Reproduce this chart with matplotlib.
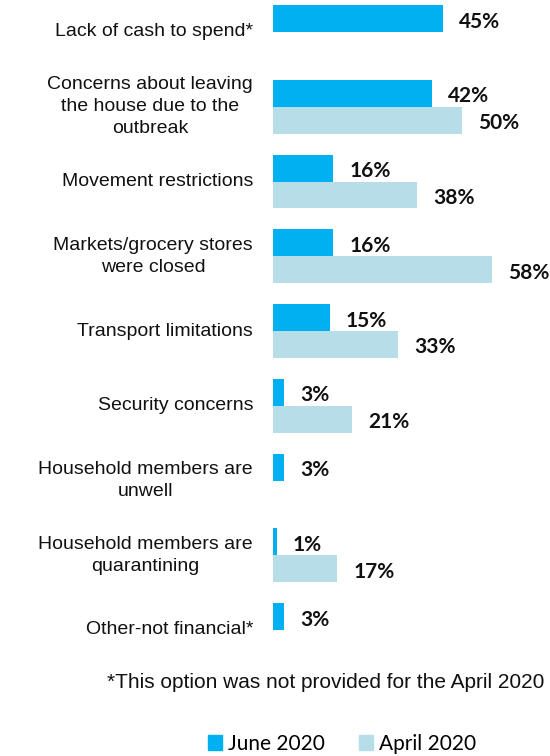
import numpy as np
import matplotlib.pyplot as plt
from matplotlib.patches import Patch

categories = [
    "Lack of cash to spend*",
    "Concerns about leaving\nthe house due to the\noutbreak",
    "Movement restrictions",
    "Markets/grocery stores\nwere closed",
    "Transport limitations",
    "Security concerns",
    "Household members are\nunwell",
    "Household members are\nquarantining",
    "Other-not financial*",
]
june = [45, 42, 16, 16, 15, 3, 3, 1, 3]
april = [None, 50, 38, 58, 33, 21, None, 17, None]

june_color = "#00B0F0"
april_color = "#B7DEE8"

W, H = 550, 756
fig = plt.figure(figsize=(W / 100, H / 100), dpi=100)

# axes placed in pixel terms: bars start at x=273, group spacing ~74.75px
x0 = 273
px_per_pct = 3.78
gap = 74.75
top_center = 32
ax_top, ax_bot = 0, 660
ax = fig.add_axes([x0 / W, 1 - ax_bot / H, (W - x0) / W, (ax_bot - ax_top) / H])
ax.set_xlim(0, (W - x0) / px_per_pct)
ax.set_ylim((ax_bot - top_center) / gap, (ax_top - top_center) / gap)
ax.axis("off")

y = np.arange(len(categories))
h = 0.36
val_font = dict(family=["Lato", "DejaVu Sans"], fontsize=15, fontweight="bold", color="#111111")
lab_font = dict(family=["Liberation Sans", "DejaVu Sans"], fontsize=14, color="#111111")

for i, cat in enumerate(categories):
    ax.barh(y[i] - h / 2, june[i], height=h, color=june_color)
    ax.text(june[i] + 4.3, y[i] - h / 2 + 0.04, f"{june[i]}%", va="center", ha="left", **val_font)
    if april[i] is not None:
        ax.barh(y[i] + h / 2, april[i], height=h, color=april_color)
        ax.text(april[i] + 4.3, y[i] + h / 2 + 0.04, f"{april[i]}%", va="center", ha="left", **val_font)
    ax.text(-20 / px_per_pct, y[i], cat, ha="right", va="center", multialignment="center",
            linespacing=1.4, clip_on=False, **lab_font)

fig.text(107 / W, 1 - 682 / H, "*This option was not provided for the April 2020",
         ha="left", va="center", family=["Liberation Sans", "DejaVu Sans"], fontsize=15,
         color="#111111")

handles = [Patch(color=june_color, label="June 2020"), Patch(color=april_color, label="April 2020")]
fig.legend(handles=handles, loc="center", bbox_to_anchor=(342 / W, 1 - 744 / H), ncol=2,
           frameon=False, prop={"family": ["Lato", "DejaVu Sans"], "size": 15},
           handlelength=0.7, handleheight=0.7, handletextpad=0.3, columnspacing=1.6)

fig.savefig("out.png", dpi=100)
